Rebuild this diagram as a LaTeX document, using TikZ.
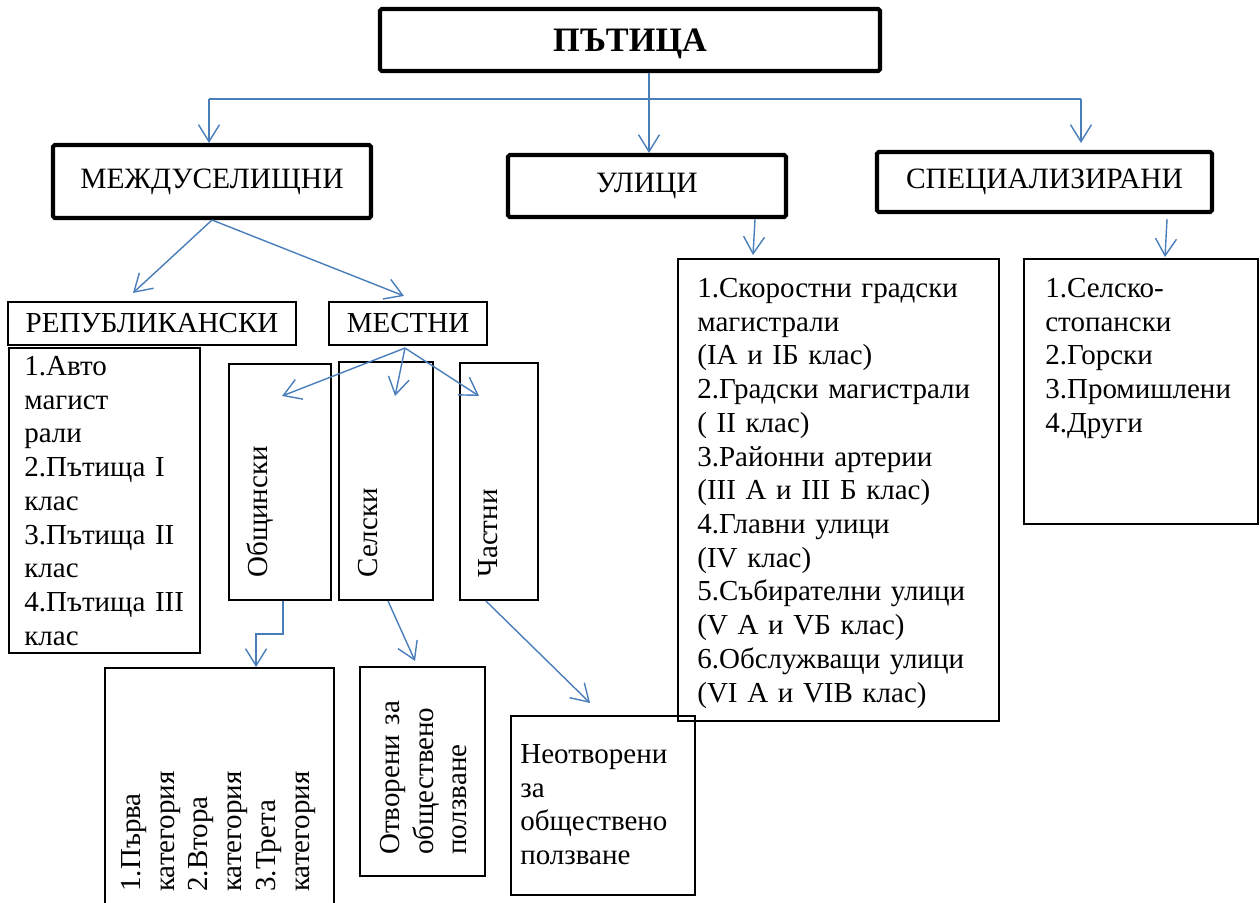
\documentclass[tikz,border=0pt]{standalone}
\usepackage{fontspec}
\setmainfont{Liberation Serif}
\usetikzlibrary{arrows.meta,calc}
\definecolor{lineblue}{RGB}{74,126,187}

\begin{document}
\begin{tikzpicture}[x=0.02cm,y=-0.02cm,>={Straight Barb[length=0.34cm,width=0.42cm]},
        font=\fontsize{16.5}{19.2}\selectfont,
        sz/.style 2 args={minimum width=#1*0.02cm,minimum height=#2*0.02cm},
        hbox/.style={draw,line width=2.3pt,inner sep=0pt,rounded corners=1pt,font=\fontsize{16.8}{19.2}\selectfont},
        tbox/.style={draw,line width=1.2pt,inner sep=0pt},
        txt/.style={anchor=north west,inner sep=0pt,align=left,text width=5.8cm,text height=0.4cm},
        rtxt/.style={txt,rotate=90},
        conn/.style={color=lineblue,line width=0.8pt}]
            \useasboundingbox (0,0) rectangle (1260,902);

            \node[hbox,sz={500}{62},font=\fontsize{19.5}{21}\selectfont\bfseries,text depth=0pt] (roads) at (630,40) {ПЪТИЦА};
            \node[hbox,sz={318}{73}] (mezhdu) at (212,181.5) {МЕЖДУСЕЛИЩНИ};
            \node[hbox,sz={278}{62}] (streets) at (647,186) {УЛИЦИ};
            \node[hbox,sz={335}{60}] (special) at (1044.5,182) {СПЕЦИАЛИЗИРАНИ};
            \node[tbox,sz={288}{43}] (republ) at (152,323.5) {РЕПУБЛИКАНСКИ};
            \node[tbox,sz={158}{43}] (local) at (408,323.5) {МЕСТНИ};

            \node[tbox,sz={191}{305},anchor=north west] (republist) at (8,347) {};
            \node[tbox,sz={102}{236},anchor=north west] (obsht) at (228,363) {};
            \node[tbox,sz={94}{238},anchor=north west] (selski) at (338,361) {};
            \node[tbox,sz={78}{237},anchor=north west] (chastni) at (459,362) {};
            \node[tbox,sz={229}{250},anchor=north west] (catbox) at (104,667) {};
            \node[tbox,sz={125}{209},anchor=north west] (openbox) at (359,666) {};
            \node[tbox,sz={184}{179},anchor=north west] (closedbox) at (510,715) {};
            \node[tbox,sz={321}{462},anchor=north west] (streetlist) at (677,258) {};
            \node[tbox,sz={234}{265},anchor=north west] (speclist) at (1023,258) {};

            \node[txt] (republtxt) at (24,355) {1.Авто\\магист\\рали\\2.Пътища I\\клас\\3.Пътища II\\клас\\4.Пътища III\\клас};
            \node[txt] (streettxt) at (697,277) {1.Скоростни градски\\магистрали\\(IA и IБ клас)\\2.Градски магистрали\\( II клас)\\3.Районни артерии\\(III A и III Б клас)\\4.Главни улици\\(IV клас)\\5.Събирателни улици\\(V A и VБ клас)\\6.Обслужващи улици\\(VI A и VIB клас)};
            \node[txt] (spectxt) at (1045,277) {1.Селско-\\стопански\\2.Горски\\3.Промишлени\\4.Други};
            \node[txt] (closedtxt) at (520,743) {Неотворени\\за\\обществено\\ползване};
            \node[rtxt] (obshttxt) at (247,578) {Общински};
            \node[rtxt] (selskitxt) at (357,578) {Селски};
            \node[rtxt] (chastnitxt) at (477,578) {Частни};
            \node[rtxt] (cattxt) at (120,892) {1.Първа\\категория\\2.Втора\\категория\\3.Трета\\категория};
            \node[rtxt] (opentxt) at (379,855) {Отворени за\\обществено\\ползване};

            \coordinate (hub) at (649,99);
            \coordinate (hubl) at (209,99);
            \coordinate (hubr) at (1081,99);
            \draw[conn] (hubl) -- (hubr);
            \path[conn,->]
                (hub |- roads.south) edge (hub |- streets.north)
                (hubl) edge (hubl |- mezhdu.north)
                (hubr) edge ($(hubr |- special.north)+(0,-7)$)
                (mezhdu.south) edge ($(republ.north)+(-19,-8)$)
                    edge ($(local.north)+(-4,-5)$)
                ($(streets.south east)+(-33,0)$) edge ($(streetlist.north west)+(76,-3)$)
                ($(special.south east)+(-47,5)$) edge ($(speclist.north west)+(142,-1)$)
                ($(local.south)+(-3,2)$) edge ($(obsht.north)+(2,33)$)
                    edge ($(selski.north)+(9,35)$)
                    edge ($(chastni.north)+(-20,34)$)
                ($(selski.south)+(2,0)$) edge ($(openbox.north)+(-7.5,-5)$)
                ($(chastni.south)+(-13,0)$) edge ($(closedbox.north)+(-13,-12)$);
            \draw[conn,->] ($(obsht.south)+(3,0)$) -- ++(0,33) -| ($(catbox.north)+(36.5,0)$);
        \end{tikzpicture}
\end{document}
